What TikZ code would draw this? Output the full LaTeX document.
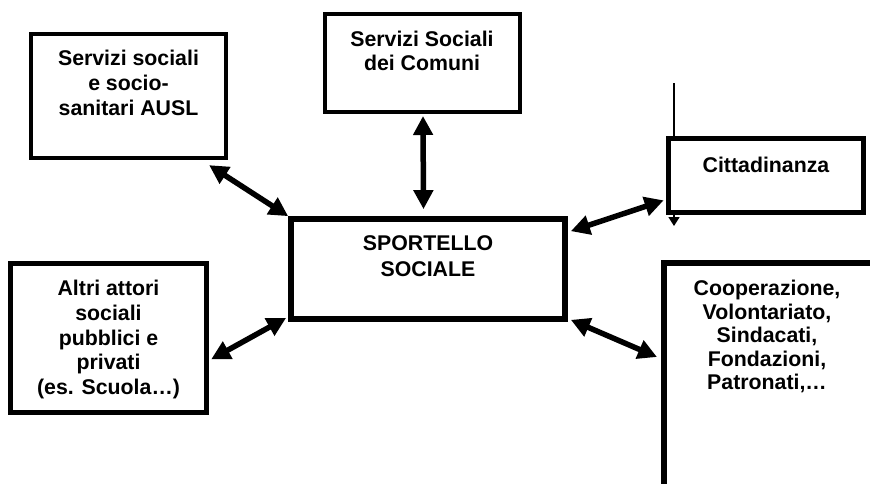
\documentclass[tikz,border=0pt]{standalone}
\usepackage{fontspec}
\setmainfont{Liberation Sans}
\usetikzlibrary{arrows.meta,calc}
\begin{document}
\begin{tikzpicture}[x=1pt,y=-1pt,
  box/.style={draw=black, fill=white, rectangle, inner sep=0pt},
  lbl/.style={font=\bfseries\fontsize{21.3}{#1}\selectfont, align=center, inner sep=0pt, anchor=north},
  lbl/.default=24.5,
  conn/.style={line width=5.5pt, {Triangle[length=19pt,width=19pt]}-{Triangle[length=19pt,width=19pt]}},
  thin/.style={line width=1.5pt, -{Triangle[length=9pt,width=11pt]}}
]
\clip (0,0) rectangle (870,483);
\fill[white] (0,0) rectangle (870,483);

% thin line behind the Cittadinanza box
\coordinate (t1) at (674,83);
\coordinate (t2) at (674,226);
\draw[thin] (t1) -- (t2);

% boxes
\node[box, line width=4.3pt, minimum width=195pt, minimum height=124pt] (A) at (128.5,96) {};
\node[box, line width=4pt, minimum width=195pt, minimum height=98pt] (B) at (422.5,63) {};
\node[box, line width=5.7pt, minimum width=274pt, minimum height=100pt] (C) at (428,269) {};
\node[box, line width=4.7pt, minimum width=195pt, minimum height=74pt] (D) at (766,175.5) {};
\node[box, line width=6pt, minimum width=209pt, minimum height=257pt] (E) at (768.5,391.5) {};
\node[box, line width=5.3pt, minimum width=196pt, minimum height=149pt] (F) at (108.5,338) {};

% texts
\node[lbl=25] (At) at (128.5,50) {Servizi sociali\\e socio-\\sanitari AUSL};
\node[lbl=24] (Bt) at (422,31) {Servizi Sociali\\dei Comuni};
\node[lbl=26.7] (Ct) at (428,235) {SPORTELLO\\SOCIALE};
\node[lbl] (Dt) at (766,157) {Cittadinanza};
\node[lbl=23.5] (Et) at (767,280) {Cooperazione,\\Volontariato,\\Sindacati,\\Fondazioni,\\Patronati,…};
\node[lbl=24.7] (Ft) at (108.5,280) {Altri attori\\sociali\\pubblici e\\privati\\(es. Scuola…)};

% connectors
\draw[conn] ([shift={(-19,5)}]A.south east) -- (C.north west);
\draw[conn] ([shift={(0.5,2)}]B.south) -- ([shift={(-4.5,-7)}]C.north);
\draw[conn] ([shift={(3,15)}]C.north east) -- ([shift={(-2.5,-14.5)}]D.south west);
\draw[conn] ([shift={(3,-2)}]C.south east) -- ([shift={(-4,97)}]E.north west);
\draw[conn] ([shift={(-2,-4)}]C.south west) -- ([shift={(2,98.5)}]F.north east);
\end{tikzpicture}
\end{document}
